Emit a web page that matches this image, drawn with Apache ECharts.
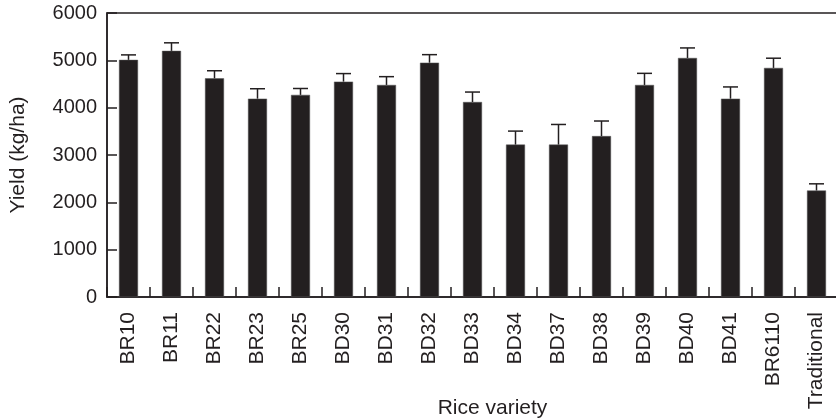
<!DOCTYPE html>
<html>
<head>
<meta charset="utf-8">
<script src="https://cdn.jsdelivr.net/npm/echarts@6/dist/echarts.min.js"></script>
<style>
html,body{margin:0;padding:0;background:#fff;}
#chart{width:836px;height:420px;}
</style>
</head>
<body>
<div id="chart"></div>
<script>
var categories = ['BR10','BR11','BR22','BR23','BR25','BD30','BD31','BD32','BD33','BD34','BD37','BD38','BD39','BD40','BD41','BR6110','Traditional'];
var yieldValues = [5010,5200,4620,4190,4270,4550,4480,4950,4120,3220,3220,3400,4480,5050,4190,4840,2250];
var errorValues = [105,170,160,210,135,170,175,170,210,285,425,318,245,212,248,205,141];
var yTicks = [0,1000,2000,3000,4000,5000,6000];

var ink = '#231f20';
var font = '"Liberation Sans", Arial, sans-serif';
var errData = categories.map(function(c,i){return [i, yieldValues[i], yieldValues[i]+errorValues[i]];});

var chart = echarts.init(document.getElementById('chart'));
chart.setOption({
  animation:false,
  grid:{left:107, top:13, right:-2, bottom:123, show:true, borderColor:ink, borderWidth:1.5, backgroundColor:'transparent', outerBoundsMode:'none', containLabel:false},
  xAxis:{
    type:'category', data:categories,
    name:'Rice variety', nameLocation:'middle', nameGap:101, nameMoveOverlap:false,
    nameTextStyle:{color:ink, fontSize:21, fontFamily:font, padding:[0,0,0,40]},
    axisLine:{show:true, lineStyle:{color:ink, width:1.5}},
    axisTick:{show:true, interval:0, inside:true, length:10, lineStyle:{color:ink, width:1.5}},
    axisLabel:{rotate:90, color:ink, fontSize:21, fontFamily:font, margin:15, interval:0}
  },
  yAxis:{
    type:'value', min:yTicks[0], max:yTicks[yTicks.length-1], interval:1000,
    name:'Yield (kg/ha)', nameLocation:'middle', nameGap:78, nameMoveOverlap:false,
    nameTextStyle:{color:ink, fontSize:21, fontFamily:font},
    axisLine:{show:true, lineStyle:{color:ink, width:1.5}},
    axisTick:{show:true, inside:true, length:10, lineStyle:{color:ink, width:1.5}},
    splitLine:{show:false},
    axisLabel:{color:ink, fontSize:20, fontFamily:font, margin:10, formatter:function(v){return String(v);}}
  },
  series:[
    {type:'bar', data:yieldValues, barWidth:19, itemStyle:{color:ink, borderColor:'#555', borderWidth:0.5}},
    {type:'custom', data:errData, z:3,
     renderItem:function(params, api){
       var x = api.value(0);
       var p0 = api.coord([x, api.value(1)]);
       var p1 = api.coord([x, api.value(2)]);
       var hw = 7.5;
       return {type:'group', children:[
         {type:'line', shape:{x1:p0[0], y1:p0[1], x2:p1[0], y2:p1[1]}, style:{stroke:ink, lineWidth:1.5}},
         {type:'line', shape:{x1:p1[0]-hw, y1:p1[1], x2:p1[0]+hw, y2:p1[1]}, style:{stroke:ink, lineWidth:1.5}}
       ]};
     }}
  ]
});
</script>
</body>
</html>
